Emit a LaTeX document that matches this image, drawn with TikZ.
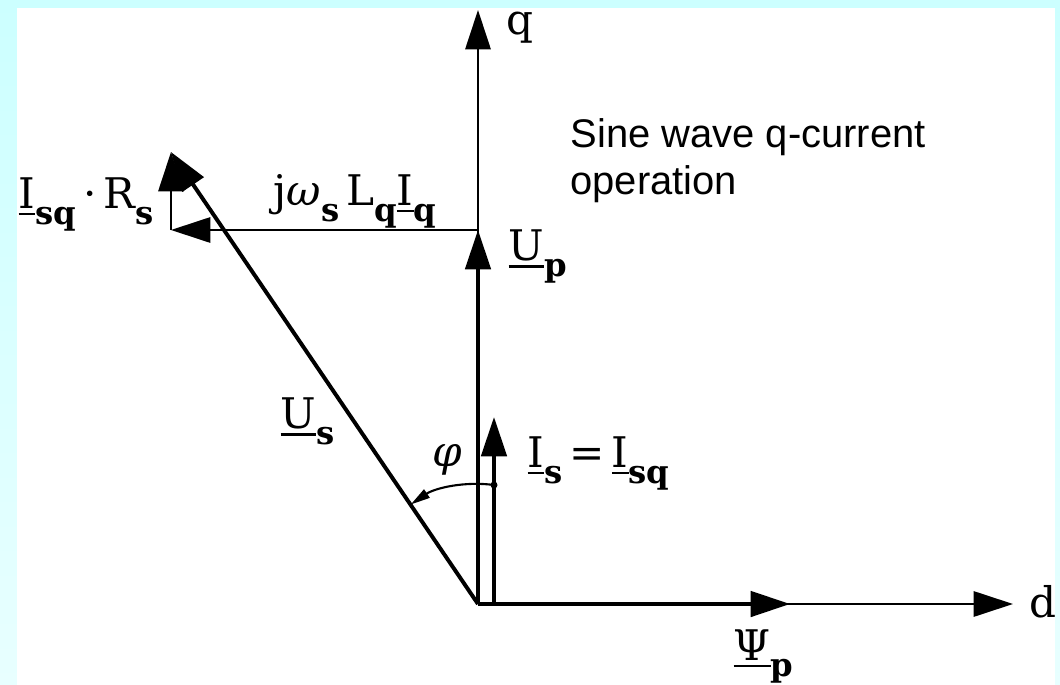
\documentclass[tikz,border=0pt]{standalone}
\usepackage{fontspec}
\newfontfamily\arialfont{Liberation Sans}
\newfontfamily\labfont{DejaVu Serif}
\usepackage{tikz}
\usetikzlibrary{
    arrows.meta,
    positioning
}
\definecolor{bgTop}{RGB}{204,255,255}
\definecolor{bgBot}{RGB}{232,255,255}
% underlined phasor letter and lowered subscript
\newcommand{\ul}[1]{\leavevmode\vtop{\hbox{#1}\kern1.6pt\hrule height 1pt}}
\newcommand{\sub}[1]{\raisebox{-6pt}{\fontsize{11.5}{14}\selectfont\bfseries #1}}
\tikzset{
  vec/.style   = {line width=1.4pt, -{Triangle[length=14pt,width=9pt]}},
  axis/.style  = {line width=0.75pt, -{Triangle[length=14pt,width=9pt]}},
  lbl/.style   = {inner sep=0pt, font=\labfont\fontsize{15}{18}\selectfont},
  note/.style  = {inner sep=0pt, align=left, font=\arialfont\fontsize{14.2}{16.6}\selectfont}
}

\begin{document}
\begin{tikzpicture}[x=0.0125cm, y=-0.0125cm]
\fill[top color=bgTop, bottom color=bgBot] (0,0) rectangle (1060,685);
\fill[white] (17,8) rectangle (1055,685);
\useasboundingbox (0,0) rectangle (1060,685);
% points of the diagram
\coordinate (O) at (478,604);
\coordinate (qtip) at (478,10);
\coordinate (dtip) at (1013,604);
\coordinate (Uptip) at (478,230);
\coordinate (Ustip) at (171,152);
\coordinate (IRbase) at (171,230);
\coordinate (Isbase) at (494,604);
\coordinate (Istip) at (494,417);
\coordinate (Psitip) at (790,604);
\coordinate (phiA) at (494,485);
% axes
\draw[axis] (O) -- (qtip);
\draw[axis] (O) -- (dtip);
% vectors
\draw[vec] (O) -- (Psitip);
\draw[vec] (O) -- (Uptip);
\draw[axis] (Uptip) -- (IRbase);
\draw[axis] (IRbase) -- (Ustip);
\draw[vec] (O) -- (Ustip);
\draw[vec] (Isbase) -- (Istip);
\fill (phiA) circle[radius=3.5];
\draw[line width=0.75pt, -{Triangle[length=7pt,width=3.5pt]}] (phiA) arc[start angle=-82.3, end angle=-124.1, radius=120];
% labels
\node[lbl, anchor=base west] (qlab) at (506,34) {q};
\node[lbl, anchor=base west] (dlab) at (1029,617) {d};
\node[lbl, anchor=base west] (Psilab) at (733,660) {\ul{Ψ}\sub{p}};
\node[lbl, anchor=base west] (Uplab) at (508,260) {\ul{U}\sub{p}};
\node[lbl, anchor=base west] (IRlab) at (18,208) {\ul{I}\sub{sq}\,·\,R\sub{s}};
\node[lbl, anchor=base west] (jwLlab) at (273,205) {j\textit{ω}\sub{s}\,L\sub{q}\ul{I}\sub{q}};
\node[lbl, anchor=base west] (Uslab) at (280,428) {\ul{U}\sub{s}};
\node[lbl] (philab) at (447,460) {\textit{φ}};
\node[lbl, anchor=base west] (Islab) at (527,467) {\ul{I}\sub{s}\,=\,\ul{I}\sub{sq}};
\node[note, anchor=base west] (title) at (570,194) {Sine wave q-current\\operation};
\end{tikzpicture}
\end{document}
